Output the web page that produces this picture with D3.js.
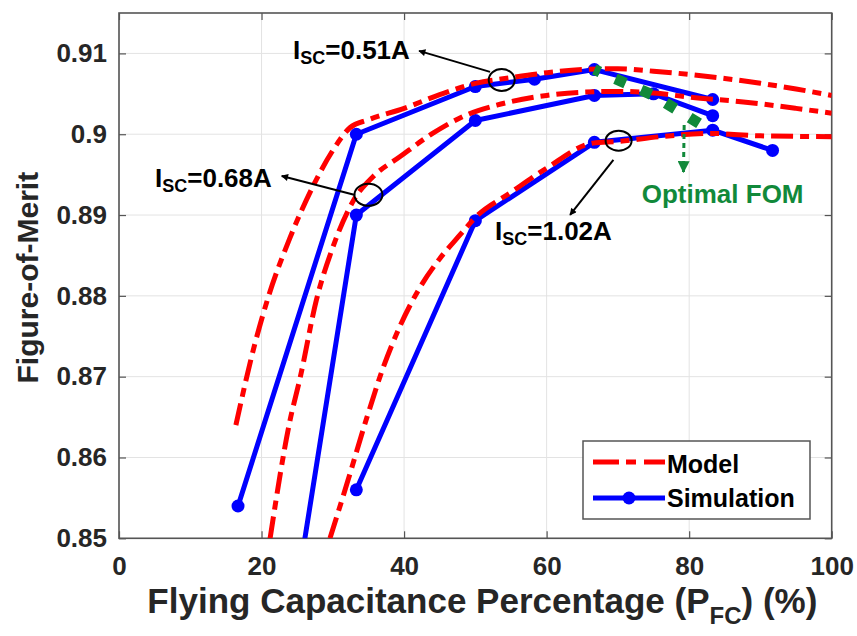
<!DOCTYPE html>
<html>
<head>
<meta charset="utf-8">
<script src="https://cdn.jsdelivr.net/npm/d3@7"></script>
<style>
  body { margin: 0; background: #fff; }
  svg { display: block; font-family: "Liberation Sans", Arial, sans-serif; font-weight: bold; }
</style>
</head>
<body>
<div id="chart"></div>
<script>
// tick values
var xTicks = [0, 20, 40, 60, 80, 100];
var yTicks = [0.85, 0.86, 0.87, 0.88, 0.89, 0.90, 0.91];

// simulation points, one array pair per short-circuit current
var simX_051 = [16.7, 33.3, 50, 58.3, 66.7, 83.3];
var simY_051 = [0.854, 0.900, 0.9059, 0.9068, 0.908, 0.9043];
var simX_068 = [25, 33.3, 50, 66.7, 75, 83.3];
var simY_068 = [0.844, 0.890, 0.9017, 0.9048, 0.9050, 0.9023];
var simX_102 = [33.3, 50, 66.7, 83.3, 91.7];
var simY_102 = [0.856, 0.8893, 0.899, 0.9005, 0.898];

// model curves
var modX_051 = [16.4, 18.9, 21, 24, 27.3, 30, 32.4, 35, 40, 45, 50, 55, 60, 65, 70, 75, 80, 85, 90, 95, 100];
var modY_051 = [0.864, 0.8735, 0.8800, 0.8872, 0.8937, 0.8980, 0.9008, 0.9018, 0.9032, 0.9049, 0.9063, 0.9070, 0.9076, 0.9080, 0.9081, 0.9078, 0.9074, 0.9069, 0.9063, 0.9056, 0.9048];
var modX_068 = [21.2, 24, 25.4, 27.7, 30, 32.9, 35.7, 39.4, 44, 48.8, 53, 60, 65, 70, 75, 80, 87.6, 95, 100];
var modY_068 = [0.85, 0.8646, 0.8698, 0.8795, 0.8860, 0.8918, 0.8948, 0.8972, 0.9001, 0.9024, 0.9036, 0.9048, 0.9052, 0.9053, 0.9051, 0.9046, 0.9040, 0.9032, 0.9026];
var modX_102 = [29.6, 32, 34.8, 37.1, 39.4, 42.2, 45, 47.9, 50, 55, 60, 66.5, 70, 76, 83, 90, 100];
var modY_102 = [0.85, 0.8568, 0.8650, 0.8712, 0.8762, 0.8810, 0.8846, 0.8876, 0.8897, 0.8928, 0.8958, 0.8989, 0.8991, 0.8997, 0.9001, 0.8998, 0.8997];

// optimal FOM trace
var optX = [66.7, 75, 83.3];
var optY = [0.908, 0.9048, 0.9003];

function zip(xs, ys) {
    return xs.map(function(v, i) { return [v, ys[i]]; });
}

function init() {
    var w = 857, h = 636;

    var x = d3.scaleLinear().domain([0, 100]).range([119, 831.7]);
    var y = d3.scaleLinear().domain([0.85, 0.915]).range([538.3, 13]);

    var svg = d3.select("#chart").append("svg")
                .attr("width", w)
                .attr("height", h);

    var left = x.range()[0], right = x.range()[1];
    var top = y.range()[1], bottom = y.range()[0];

    svg.append("defs").append("clipPath").attr("id", "plotclip")
        .append("rect")
        .attr("x", left).attr("y", top)
        .attr("width", right - left).attr("height", bottom - top);

    // grid lines
    svg.append("g").selectAll("line.gx").data(xTicks).enter().append("line")
        .attr("x1", d => x(d)).attr("x2", d => x(d))
        .attr("y1", top).attr("y2", bottom)
        .attr("stroke", "#e3e3e3").attr("stroke-width", 1);
    svg.append("g").selectAll("line.gy").data(yTicks).enter().append("line")
        .attr("y1", d => y(d)).attr("y2", d => y(d))
        .attr("x1", left).attr("x2", right)
        .attr("stroke", "#e3e3e3").attr("stroke-width", 1);

    var fmtY = function(d) { return String(+d.toFixed(2)); };

    // axes, ticks pointing inward like matlab
    var xAxis = svg.append("g").attr("transform", "translate(0," + bottom + ")")
        .call(d3.axisBottom(x).tickValues(xTicks).tickSizeInner(-7).tickSizeOuter(0).tickPadding(18));
    var yAxis = svg.append("g").attr("transform", "translate(" + left + ",0)")
        .call(d3.axisLeft(y).tickValues(yTicks).tickFormat(fmtY).tickSizeInner(-7).tickSizeOuter(0).tickPadding(12));
    svg.append("g").attr("transform", "translate(0," + top + ")")
        .call(d3.axisTop(x).tickValues(xTicks).tickSizeInner(-7).tickSizeOuter(0).tickFormat(""));
    svg.append("g").attr("transform", "translate(" + right + ",0)")
        .call(d3.axisRight(y).tickValues(yTicks).tickSizeInner(-7).tickSizeOuter(0).tickFormat(""));

    svg.selectAll(".domain").remove();
    svg.selectAll(".tick line").attr("stroke", "#555").attr("stroke-width", 1.2);
    xAxis.selectAll("text").attr("font-size", 26).attr("font-family", "Liberation Sans, Arial")
        .attr("font-weight", "bold").attr("fill", "#262626");
    yAxis.selectAll("text").attr("font-size", 26).attr("font-family", "Liberation Sans, Arial")
        .attr("font-weight", "bold").attr("fill", "#262626");

    // box
    svg.append("rect")
        .attr("x", left).attr("y", top)
        .attr("width", right - left).attr("height", bottom - top)
        .attr("fill", "none").attr("stroke", "#555").attr("stroke-width", 1.6);

    var plot = svg.append("g").attr("clip-path", "url(#plotclip)");

    var modelLine = d3.line().x(d => x(d[0])).y(d => y(d[1])).curve(d3.curveMonotoneX);
    var simLine = d3.line().x(d => x(d[0])).y(d => y(d[1]));

    var models = [zip(modX_051, modY_051), zip(modX_068, modY_068), zip(modX_102, modY_102)];
    var sims = [zip(simX_051, simY_051), zip(simX_068, simY_068), zip(simX_102, simY_102)];

    // simulation lines + markers
    sims.forEach(function(s) {
        plot.append("path").datum(s)
            .attr("d", simLine)
            .attr("fill", "none").attr("stroke", "#0000ff").attr("stroke-width", 5)
            .attr("stroke-linejoin", "round");
        plot.selectAll(null).data(s).enter().append("circle")
            .attr("cx", d => x(d[0])).attr("cy", d => y(d[1])).attr("r", 6.5)
            .attr("fill", "#0000ff");
    });

    // model curves, dash-dot
    models.forEach(function(m) {
        plot.append("path").datum(m)
            .attr("d", modelLine)
            .attr("fill", "none").attr("stroke", "#ff0000").attr("stroke-width", 5)
            .attr("stroke-dasharray", "22,7,9,7");
    });

    // optimal FOM trace
    var green = "#11893a";
    plot.append("path").datum(zip(optX, optY))
        .attr("d", simLine)
        .attr("fill", "none").attr("stroke", green).attr("stroke-width", 11)
        .attr("stroke-dasharray", "11,17").attr("stroke-dashoffset", 5);

    // arrow markers
    var defs = svg.select("defs");
    defs.append("marker").attr("id", "blackhead")
        .attr("viewBox", "0 0 10 10").attr("refX", 9).attr("refY", 5)
        .attr("markerWidth", 9).attr("markerHeight", 7).attr("markerUnits", "userSpaceOnUse")
        .attr("orient", "auto")
        .append("path").attr("d", "M0,0L10,5L0,10z").attr("fill", "#000");
    defs.append("marker").attr("id", "greenhead")
        .attr("viewBox", "0 0 10 10").attr("refX", 9).attr("refY", 5)
        .attr("markerWidth", 12).attr("markerHeight", 12).attr("markerUnits", "userSpaceOnUse")
        .attr("orient", "auto")
        .append("path").attr("d", "M0,0L10,5L0,10z").attr("fill", green);

    // circles marking the current curves
    var rings = [
        { cx: 53.7, cy: 0.9067, rx: 13, ry: 11 },
        { cx: 35.0, cy: 0.8925, rx: 14, ry: 11 },
        { cx: 70.1, cy: 0.8992, rx: 13, ry: 10 }
    ];
    svg.selectAll(null).data(rings).enter().append("ellipse")
        .attr("cx", d => x(d.cx)).attr("cy", d => y(d.cy))
        .attr("rx", d => d.rx).attr("ry", d => d.ry)
        .attr("fill", "none").attr("stroke", "#000").attr("stroke-width", 2);

    var arrows = [
        { x1: 52.06, y1: 0.90771, x2: 42.1, y2: 0.91031 },
        { x1: 33.12, y1: 0.89249, x2: 22.83, y2: 0.89484 },
        { x1: 69.37, y1: 0.89682, x2: 63.29, y2: 0.89001 }
    ];
    svg.selectAll(null).data(arrows).enter().append("line")
        .attr("x1", d => x(d.x1)).attr("y1", d => y(d.y1))
        .attr("x2", d => x(d.x2)).attr("y2", d => y(d.y2))
        .attr("stroke", "#000").attr("stroke-width", 2)
        .attr("marker-end", "url(#blackhead)");

    // current labels with subscript
    var labels = [
        { x: 24.42, y: 0.90932, val: "=0.51A" },
        { x: 5.05, y: 0.89348, val: "=0.68A" },
        { x: 52.76, y: 0.88692, val: "=1.02A" }
    ];
    labels.forEach(function(l) {
        var t = svg.append("text")
            .attr("x", x(l.x)).attr("y", y(l.y))
            .attr("font-size", 26).attr("fill", "#000");
        t.append("tspan").text("I");
        t.append("tspan").attr("font-size", 18).attr("dy", 5).text("SC");
        t.append("tspan").attr("dy", -5).text(l.val);
    });

    // green arrow + label
    svg.append("line")
        .attr("x1", x(79.3)).attr("y1", y(0.90115))
        .attr("x2", x(79.2)).attr("y2", y(0.89533))
        .attr("stroke", green).attr("stroke-width", 3)
        .attr("stroke-dasharray", "5,4")
        .attr("marker-end", "url(#greenhead)");
    svg.append("text")
        .attr("x", x(73.35)).attr("y", y(0.8915))
        .attr("font-size", 26).attr("fill", green)
        .text("Optimal FOM");

    // axis titles
    var xt = svg.append("text")
        .attr("x", (left + right) / 2 + 7).attr("y", 613)
        .attr("text-anchor", "middle").attr("font-size", 35).attr("fill", "#262626");
    xt.append("tspan").text("Flying Capacitance Percentage (P");
    xt.append("tspan").attr("font-size", 24).attr("dy", 11).text("FC");
    xt.append("tspan").attr("dy", -11).text(") (%)");

    svg.append("text")
        .attr("transform", "translate(38," + ((top + bottom) / 2 + 2) + ") rotate(-90)")
        .attr("text-anchor", "middle").attr("font-size", 30).attr("fill", "#262626")
        .text("Figure-of-Merit");

    // legend
    var lg = svg.append("g");
    lg.append("rect")
        .attr("x", 583).attr("y", 441).attr("width", 227).attr("height", 78)
        .attr("fill", "#fff").attr("stroke", "#555").attr("stroke-width", 1.5);
    lg.append("line")
        .attr("x1", 593).attr("x2", 665).attr("y1", 462).attr("y2", 462)
        .attr("stroke", "#ff0000").attr("stroke-width", 5)
        .attr("stroke-dasharray", "26,7,10,8");
    lg.append("text").attr("x", 667).attr("y", 473).attr("font-size", 25).attr("fill", "#000").text("Model");
    lg.append("line")
        .attr("x1", 593).attr("x2", 665).attr("y1", 498).attr("y2", 498)
        .attr("stroke", "#0000ff").attr("stroke-width", 5);
    lg.append("circle").attr("cx", 629).attr("cy", 498).attr("r", 6.5).attr("fill", "#0000ff");
    lg.append("text").attr("x", 667).attr("y", 507).attr("font-size", 25).attr("fill", "#000").text("Simulation");
}

window.onload = init;
</script>
</body>
</html>
